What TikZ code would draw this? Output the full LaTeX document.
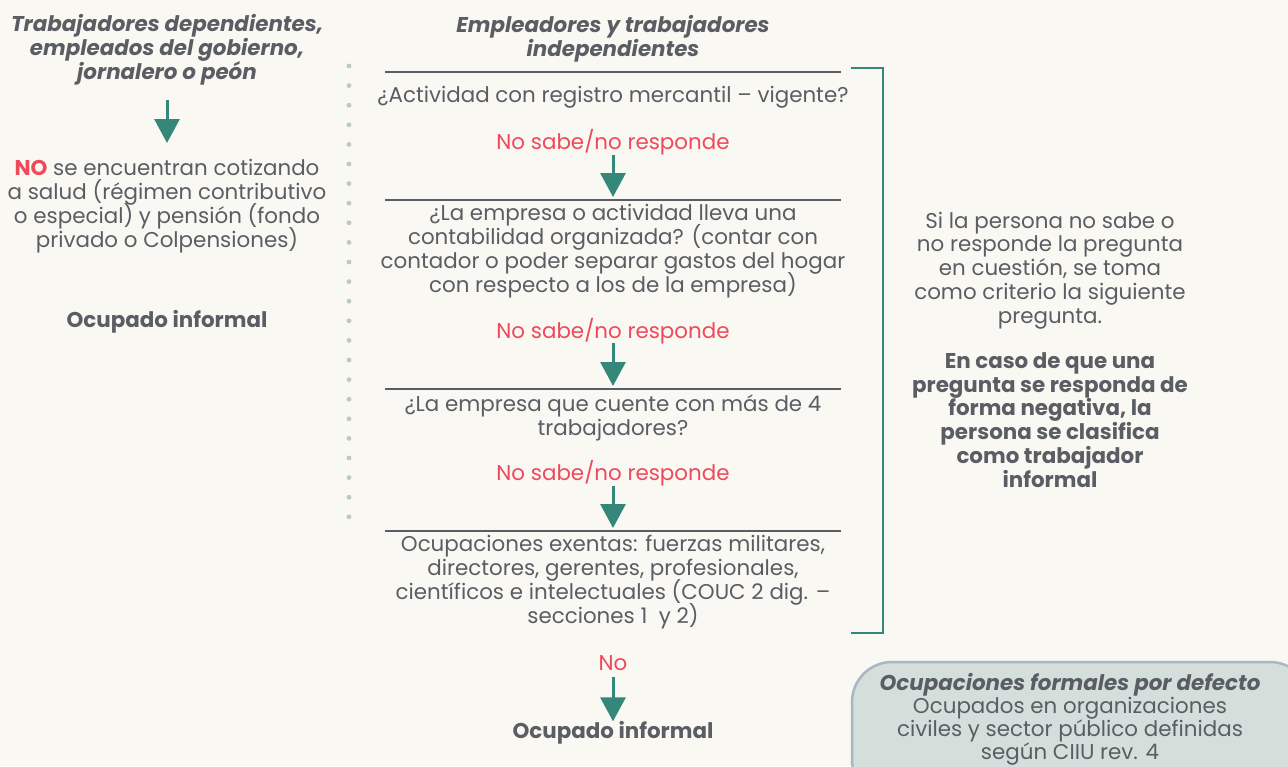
\documentclass[tikz,border=0pt]{standalone}
\usepackage{fontspec}
\setmainfont{Poppins}
\usetikzlibrary{arrows.meta}
\definecolor{bgc}{HTML}{F9F8F2}
\definecolor{txtc}{HTML}{5A5D63}
\definecolor{noc}{HTML}{EE4A5B}
\definecolor{arrc}{HTML}{35877A}
\definecolor{dotc}{HTML}{B9CCBD}
\definecolor{boxfill}{HTML}{D4DFDC}
\definecolor{boxline}{HTML}{A9B7C5}
\tikzset{
  base/.style={inner sep=0pt, align=center, text=txtc, font=\fontsize{21.4}{23.8}\selectfont},
  ttl/.style={base, font=\fontsize{21.4}{23.8}\selectfont\bfseries\itshape},
  bld/.style={base, font=\fontsize{21.4}{23.8}\selectfont\bfseries},
  boxtxt/.style={base, font=\fontsize{21.4}{23}\selectfont},
  nolab/.style={base, text=noc},
  flow/.style={draw=arrc, line width=3pt, -{Triangle[width=25pt,length=24pt]}},
  rule/.style={draw=txtc, line width=2pt},
  brk/.style={draw=arrc, line width=2pt},
}
\begin{document}
\setlength{\lineskiplimit}{-50pt}
\begin{tikzpicture}[x=1pt,y=-1pt]
\fill[bgc] (0,0) rectangle (1288,766);
\useasboundingbox (0,0) rectangle (1288,766);

% left column
\node[ttl] (lt) at (167,50) {Trabajadores dependientes,\\ empleados del gobierno,\\ jornalero o peón};
\node[base] (lb) at (167,206) {{\bfseries\color{noc}NO} se encuentran cotizando\\ a salud (régimen contributivo\\ o especial) y pensión (fondo\\ privado o Colpensiones)};
\node[bld] (lo) at (167,322) {Ocupado informal};
\coordinate (la1) at (167,100);
\coordinate (la2) at (167,143);
\draw[flow] (la1) -- (la2);

% dotted separator
\foreach \i in {0,...,23} \fill[dotc] (349,66+\i*19.6) circle (2.4pt);

% middle column
\node[ttl] (mt) at (613,38.5) {Empleadores y trabajadores\\ independientes};
\draw[rule] (385,72) -- (841,72);
\node[base] (q1) at (613,97) {¿Actividad con registro mercantil – vigente?};
\node[nolab] (r1) at (613,142) {No sabe/no responde};
\coordinate (t1) at (613,197);
\draw[flow] (613,155) -- (t1);
\draw[rule] (385,200) -- (841,200);
\node[base] (q2) at (613,251) {¿La empresa o actividad lleva una\\ contabilidad organizada? (contar con\\ contador o poder separar gastos del hogar\\ con respecto a los de la empresa)};
\node[nolab] (r2) at (613,331) {No sabe/no responde};
\coordinate (t2) at (613,386);
\draw[flow] (613,343) -- (t2);
\draw[rule] (385,389) -- (841,389);
\node[base] (q3) at (613,418) {¿La empresa que cuente con más de 4\\ trabajadores?};
\node[nolab] (r3) at (613,473) {No sabe/no responde};
\coordinate (t3) at (613,528);
\draw[flow] (613,486) -- (t3);
\draw[rule] (385,531) -- (841,531);
\node[base] (q4) at (613,582) {Ocupaciones exentas: fuerzas militares,\\ directores, gerentes, profesionales,\\ científicos e intelectuales (COUC 2 dig. –\\ secciones 1~ y 2)};
\node[nolab] (r4) at (613,663) {No};
\node[bld] (mo) at (613,733) {Ocupado informal};
\draw[flow] (613,677) -- (mo.north);

% bracket
\draw[brk] (851,68) -- (883,68) -- (883,633) -- (851,633);

% right text
\node[base] (rn) at (1050,270.5) {Si la persona no sabe o\\ no responde la pregunta\\ en cuestión, se toma\\ como criterio la siguiente\\ pregunta.};
\node[bld] (rb) at (1050,420) {En caso de que una\\ pregunta se responda de\\ forma negativa, la\\ persona se clasifica\\ como trabajador\\ informal};

% default box
\draw[fill=boxfill, draw=boxline, line width=2.5pt, rounded corners=40pt] (852,662) rectangle (1310,800);
\node[boxtxt] (bx) at (1070,719) {{\bfseries\itshape Ocupaciones formales por defecto}\\ Ocupados en organizaciones\\ civiles y sector público definidas\\ según CIIU rev. 4};
\end{tikzpicture}
\end{document}
